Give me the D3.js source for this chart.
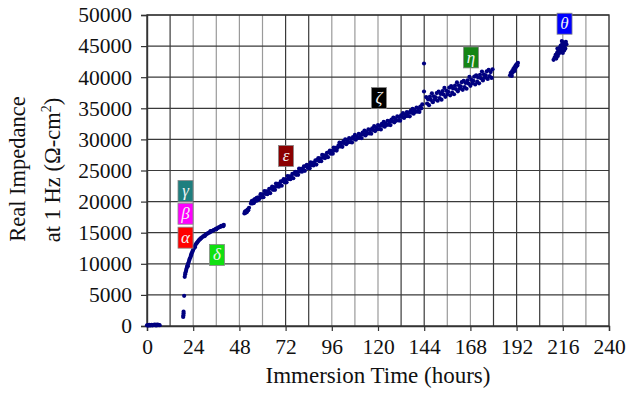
<!DOCTYPE html>
<html>
<head>
<meta charset="utf-8">
<script src="https://d3js.org/d3.v7.min.js"></script>
<style>
  body { margin: 0; background: #fff; }
</style>
</head>
<body>
<div id="chart"></div>
<script>
// readings: [hours, real impedance (ohm-cm2)]
var run0 = [[0,120],[0.3,80],[0.6,150],[0.9,100],[1.2,180],[1.5,130],[1.8,90],[2.1,160],[2.4,200],[2.7,110],[3.0,140],[3.3,190],[3.6,120],[3.9,170],[4.2,210],[4.5,150],[4.8,100],[5.1,180],[5.4,230],[5.7,140],[6.0,200],[6.3,160],[6.6,120]];

var run1 = [[18.8,1450],[18.9,1700],[19.0,2000],[19.0,2300],[19.3,4850],[19.6,7900],[19.8,8300],[20.0,8600],[20.3,8900],[20.5,9200],[20.8,9500],[21.0,9700],[21.2,9600],[21.3,9950],[21.6,10200],[21.9,10550],[22.2,10800],[22.5,11000],[22.8,11300],[23.0,11400],[23.1,11600],[23.4,11800],[23.7,12050],[24.0,12250],[24.4,12500],[24.8,12800],[25.0,12700],[25.2,13050],[25.6,13250],[26.0,13400],[26.5,13600],[27.0,13800],[27.5,13950],[27.8,14050],[28.0,14100],[28.6,14250],[29.2,14400],[29.8,14550],[30.0,14450],[30.4,14650],[31.0,14800],[31.6,14900],[32.2,15000],[32.8,15100],[33.0,15250],[33.4,15200],[34.0,15300],[34.6,15400],[35.2,15500],[35.8,15600],[36.0,15550],[36.4,15700],[37.0,15800],[37.6,15900],[38.2,15950],[38.5,16100],[38.8,16050],[39.4,16150],[39.6,16050],[39.9,16250]];

var run2 = [[50.6,18100],[50.9,18400],[51.2,18200],[51.5,18500],[51.8,18300],[52.2,18700],[52.6,18600],[53.0,19000],[54.0,19700],[54.4,20100],[54.8,19700],[55.2,20200],[55.6,19800],[56.0,20400],[56.5,20100],[57.0,20600],[57.4,20200],[57.8,20700],[58.3,20400],
  [59.0,21200],[59.5,20700],[60.0,21150],[60.5,20700],[61.0,21700],[61.5,21250],[62.0,21650],[62.5,21200],[63.0,21650],[63.5,22050],[64.0,21350],[64.5,22100],[65.0,22400],[65.5,21900],[66.0,22350],[66.5,21900],[67.0,22900],[67.5,22450],[68.0,22850],[68.5,22400],[69.0,22850],[69.5,23250],[70.0,22550],[70.5,23300],[71.0,23600],[71.5,23100],[72.0,23550],[72.5,23100],[73.0,24100],[73.5,23650],[74.0,24050],[74.5,23600],[75.0,24050],[75.5,24450],[76.0,23750],[76.5,24500],[77.0,24800],[77.5,24300],[78.0,24750],[78.5,24300],[79.0,25300],[79.5,24850],[80.0,25250],[80.5,24800],[81.0,25250],[81.5,25650],[82.0,24950],[82.5,25700],[83.0,25900],[83.5,25400],[84.0,25800],[84.5,25350],[85.0,26300],[85.5,25850],[86.0,26250],[86.5,25800],[87.0,26250],[87.5,26650],[88.0,25950],[88.5,26700],[89.0,27000],[89.5,26500],[90.0,26950],[90.5,26500],[91.0,27500],[91.5,27050],[92.0,27450],[92.5,27000],[93.0,27450],[93.5,27850],[94.0,27150],[94.5,27900],[95.0,28200],[95.5,27700],[96.0,28150],[96.5,27700],[97.0,28700],[97.5,28250],[98.0,28650],[98.5,28200],[99.0,28650],[99.5,29050]];

var run3 = [[100.0,29500],[100.5,28870],[101.0,29390],[101.5,28810],[102.0,29680],[102.5,29400],[103.0,30020],[103.5,29240],[104.0,29760],[104.5,29530],[105.0,30200],[105.5,29570],[106.0,30090],[106.5,29510],[107.0,30380],[107.5,30100],[108.0,30720],[108.5,29940],[109.0,30460],[109.5,30230],[110.0,30900],[110.5,30270],[111.0,30790],[111.5,30210],[112.0,31080],[112.5,30800],[113.0,31420],[113.5,30640],[114.0,31160],[114.5,30930],[115.0,31600],[115.5,30970],[116.0,31490],[116.5,30910],[117.0,31780],[117.5,31500],[118.0,32120],[118.5,31340],[119.0,31860],[119.5,31630],[120.0,32300],[120.5,31670],[121.0,32190],[121.5,31610],[122.0,32480],[122.5,32200],[123.0,32820],[123.5,32040],[124.0,32560],[124.5,32330],[125.0,33000],[125.5,32370],[126.0,32890],[126.5,32310],[127.0,33180],[127.5,32900],[128.0,33520],[128.5,32740],[129.0,33260],[129.5,33030],[130.0,33700],[130.5,33070],[131.0,33590],[131.5,33010],[132.0,33880],[132.5,33600],[133.0,34220],[133.5,33440],[134.0,33960],[134.5,33730],[135.0,34400],[135.5,33770],[136.0,34290],[136.5,33710],[137.0,34580],[137.5,34300],[138.0,34920],[138.5,34140],[139.0,34660],[139.5,34430],[140.0,35100],[140.5,34470],[141.0,34990],[141.5,34410],[142.0,35280],[142.5,35000],[143.0,35620],[143.9,37700],[143.9,42200]];

var run4 = [[145.0,36800],[145.5,35770],[146.0,36440],[146.5,35500],[147.0,36870],[147.5,36340],[148.0,37400],[148.5,35970],[149.0,36940],[149.5,36410],[150.0,36780],[150.5,37440],[151.0,36210],[151.5,37680],[152.0,36650],[152.5,37310],[153.0,36380],[153.5,37750],[154.0,37220],[154.5,38280],[155.0,36850],[155.5,37820],[156.0,37290],[156.5,37650],[157.0,38320],[157.5,37090],[158.0,38560],[158.5,37520],[159.0,38190],[159.5,37260],[160.0,38630],[160.5,38090],[161.0,39160],[161.5,37730],[162.0,38700],[162.5,38160],[163.0,38530],[163.5,39200],[164.0,37970],[164.5,39430],[165.0,38400],[165.5,39070],[166.0,38140],[166.5,39500],[167.0,38970],[167.5,40040],[168.0,38610],[168.5,39570],[169.0,39040],[169.5,39410],[170.0,40080],[170.5,38840],[171.0,40310],[171.5,39280],[172.0,39950],[172.5,39010],[173.0,40380],[173.5,39850],[174.0,40920],[174.5,39480],[175.0,40450],[175.5,39920],[176.0,40290],[176.5,40950],[177.0,39720],[177.5,41190],[178.0,40160],[178.5,40820],[179.0,39890],[179.5,41260]];

var run5 = [[188.6,40300],[189.0,40700],[189.3,40500],[189.5,40200],[189.7,41000],[190.0,40800],[190.3,41300],[190.6,41100],[190.9,41600],[191.0,41000],[191.2,41400],[191.5,41900],[191.8,41700],[192.1,42100],[192.4,41900],[192.7,42300]];

var run6 = [[211.2,42800],[211.8,43200],[212.3,43600],[212.6,43000],[213.0,43900],[213.2,44600],[213.4,43400],[213.7,44300],[214.0,43800],[214.3,44700],[214.6,44100],[214.9,45100],[215.2,44500],[215.5,45800],[215.8,45400],[216.0,43900],[216.1,44800],[216.4,45600],[216.7,44300],[217.0,45100],[217.3,44600],[217.6,45700],[217.9,45300]];

var xTicks = [0, 24, 48, 72, 96, 120, 144, 168, 192, 216, 240];
var yTicks = [0, 5000, 10000, 15000, 20000, 25000, 30000, 35000, 40000, 45000, 50000];
var xGrid = [12, 24, 36, 48, 60, 72, 84, 96, 108, 120, 132, 144, 156, 168, 180, 192, 204, 216, 228];
var xGridDark = [12, 72, 84, 132, 144, 180, 192, 204];

// stage markers: symbol, fill, [hours, impedance] of box centre
var stageNames = ["\u03b3", "\u03b2", "\u03b1", "\u03b4", "\u03b5", "\u03b6", "\u03b7", "\u03b8"];
var stageColors = ["#1f7f7f", "#ff00ff", "#ff0000", "#11e011", "#8b0000", "#000000", "#158515", "#0000ff"];
var stageAt = [[20, 21700], [20, 18050], [20, 14200], [36.4, 11420], [72.2, 27340], [120.5, 36660], [168.3, 43180], [216.9, 48600]];

var serif = "'Liberation Serif', serif";
var margin = {top: 15, right: 18, bottom: 67, left: 147},
    width = 627 - margin.left - margin.right,
    height = 393 - margin.top - margin.bottom;

var svg = d3.select("#chart").append("svg")
    .attr("width", 627).attr("height", 393)
  .append("g")
    .attr("transform", "translate(" + margin.left + "," + margin.top + ")");

var x = d3.scaleLinear().domain([0, 240]).range([0, width]);
var y = d3.scaleLinear().domain([0, 50000]).range([height, 0]);

// grid
svg.selectAll(".vgrid").data(xGrid).enter().append("line")
    .attr("x1", d => x(d)).attr("x2", d => x(d))
    .attr("y1", 0).attr("y2", height)
    .attr("stroke", d => xGridDark.indexOf(d) >= 0 ? "#3a3a3a" : "#9a9a9a")
    .attr("stroke-width", 1.2);
svg.selectAll(".hgrid").data(yTicks.slice(1)).enter().append("line")
    .attr("x1", 0).attr("x2", width)
    .attr("y1", d => y(d)).attr("y2", d => y(d))
    .attr("stroke", "#3a3a3a")
    .attr("stroke-width", 1.2);
svg.append("rect")
    .attr("width", width).attr("height", height)
    .attr("fill", "none").attr("stroke", "#333").attr("stroke-width", 1.4);

var xAxis = svg.append("g")
    .attr("transform", "translate(0," + height + ")")
    .call(d3.axisBottom(x).tickValues(xTicks).tickSize(5).tickPadding(8));
var yAxis = svg.append("g")
    .call(d3.axisLeft(y).tickValues(yTicks).tickSize(6).tickPadding(9).tickFormat(d3.format("d")));
[xAxis, yAxis].forEach(function(a) {
  a.select(".domain").attr("stroke", "#333").attr("stroke-width", 1.4);
  a.selectAll(".tick line").attr("stroke", "#333").attr("stroke-width", 1.2);
  a.selectAll("text").style("font-size", "21.5px").attr("fill", "#111");
});

// points
var allRuns = [run0, run1, run2, run3, run4, run5, run6];
allRuns.forEach(function(run) {
  svg.append("g").selectAll("circle").data(run).enter().append("circle")
      .attr("cx", d => x(d[0])).attr("cy", d => y(d[1]))
      .attr("r", 2.1)
      .attr("fill", "#000080");
});

// stage boxes
var stages = svg.append("g").selectAll("g").data(stageNames).enter().append("g")
    .attr("transform", (d, i) => "translate(" + x(stageAt[i][0]) + "," + y(stageAt[i][1]) + ")");
stages.append("rect")
    .attr("x", -7.5).attr("y", -10.5).attr("width", 15).attr("height", 21)
    .attr("fill", (d, i) => stageColors[i])
    .attr("stroke", "#888").attr("stroke-width", 0.8);
stages.append("text")
    .attr("text-anchor", "middle").attr("dy", "0.32em")
    .style("font-size", "17px").style("font-style", "italic")
    .attr("fill", "#f4f4f4")
    .text(d => d);

// axis titles
svg.append("text")
    .attr("x", width / 2).attr("y", 383 - margin.top)
    .attr("text-anchor", "middle")
    .style("font-size", "23px").attr("fill", "#111")
    .text("Immersion Time (hours)");
var yt = svg.append("text")
    .attr("transform", "rotate(-90)")
    .attr("text-anchor", "middle")
    .style("font-size", "22.5px").attr("fill", "#111");
yt.append("tspan").attr("x", -(169 - margin.top)).attr("y", 25 - margin.left).text("Real Impedance");
var l2 = yt.append("tspan").attr("x", -(170 - margin.top)).attr("y", 60 - margin.left);
l2.append("tspan").text("at 1 Hz (\u03a9-cm");
l2.append("tspan").attr("dy", -9).style("font-size", "14px").text("2");
l2.append("tspan").attr("dy", 9).text(")");

svg.selectAll("text").style("font-family", serif);
</script>
</body>
</html>
